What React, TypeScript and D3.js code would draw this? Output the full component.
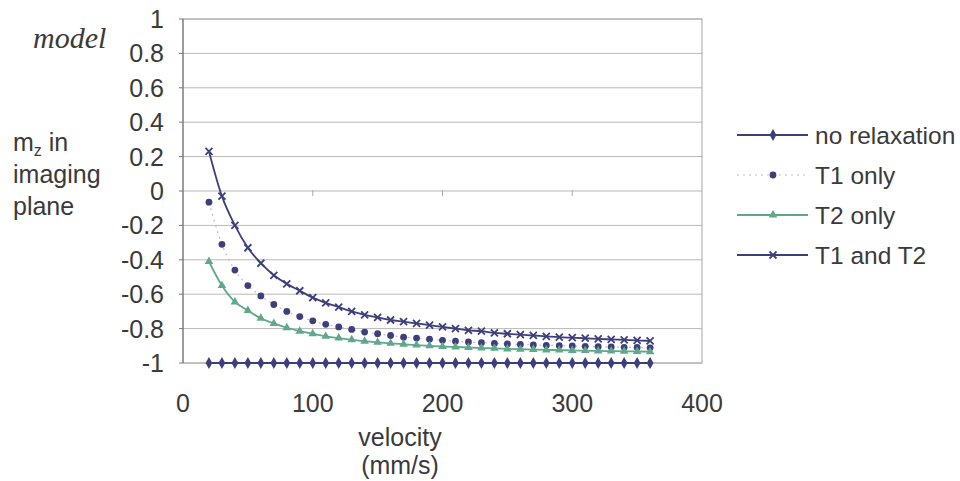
import React from "react";
import * as d3 from "d3";

const velocity = [20,30,40,50,60,70,80,90,100,110,120,130,140,150,160,170,180,190,200,210,220,230,240,250,260,270,280,290,300,310,320,330,340,350,360];
const noRelaxation = velocity.map(() => -1);
const t1Only = [-0.065,-0.31,-0.46,-0.55,-0.61,-0.66,-0.70,-0.73,-0.755,-0.775,-0.79,-0.805,-0.82,-0.83,-0.84,-0.85,-0.855,-0.862,-0.868,-0.873,-0.878,-0.882,-0.886,-0.889,-0.892,-0.895,-0.897,-0.899,-0.901,-0.903,-0.905,-0.907,-0.909,-0.91,-0.912];
const t2Only = [-0.41,-0.55,-0.645,-0.695,-0.74,-0.77,-0.795,-0.815,-0.83,-0.845,-0.855,-0.865,-0.873,-0.88,-0.886,-0.891,-0.896,-0.9,-0.904,-0.907,-0.91,-0.913,-0.915,-0.918,-0.92,-0.922,-0.924,-0.925,-0.927,-0.928,-0.93,-0.931,-0.932,-0.933,-0.934];
const t1AndT2 = [0.23,-0.03,-0.2,-0.33,-0.42,-0.49,-0.54,-0.58,-0.62,-0.65,-0.675,-0.7,-0.72,-0.735,-0.75,-0.76,-0.77,-0.78,-0.79,-0.8,-0.81,-0.815,-0.825,-0.83,-0.835,-0.84,-0.845,-0.85,-0.853,-0.856,-0.86,-0.863,-0.866,-0.869,-0.872];
const seriesNames = ["no relaxation", "T1 only", "T2 only", "T1 and T2"];
const xTicks = [0, 100, 200, 300, 400];
const yTicks = [1, 0.8, 0.6, 0.4, 0.2, 0, -0.2, -0.4, -0.6, -0.8, -1];

const NAVY = "#3d3f7c";
const GREEN = "#5fa98a";
const TEXT = "#3a3a3a";
const FONT = "'Liberation Sans', Arial, sans-serif";

const x = d3.scaleLinear().domain([0, 400]).range([183, 702]);
const y = d3.scaleLinear().domain([-1, 1]).range([363, 19]);

function Marker({ kind, cx, cy }: { kind: string; cx: number; cy: number }) {
  if (kind === "diamond")
    return <path d={d3.symbol(d3.symbolDiamond, 40)() as string} transform={`translate(${cx},${cy})`} fill={NAVY} />;
  if (kind === "circle") return <circle cx={cx} cy={cy} r={3.4} fill={NAVY} />;
  if (kind === "triangle")
    return <path d={d3.symbol(d3.symbolTriangle, 32)() as string} transform={`translate(${cx},${cy})`} fill={GREEN} />;
  return (
    <path d={`M${cx - 3.5},${cy - 3.5}L${cx + 3.5},${cy + 3.5}M${cx - 3.5},${cy + 3.5}L${cx + 3.5},${cy - 3.5}`} stroke={NAVY} strokeWidth={1.8} />
  );
}

export default function App() {
  const series = [
    { name: seriesNames[0], values: noRelaxation, color: NAVY, dash: undefined as string | undefined, width: 2, marker: "diamond" },
    { name: seriesNames[1], values: t1Only, color: "#c8b8c8", dash: "2,4", width: 1.2, marker: "circle" },
    { name: seriesNames[2], values: t2Only, color: GREEN, dash: undefined, width: 1.8, marker: "triangle" },
    { name: seriesNames[3], values: t1AndT2, color: NAVY, dash: undefined, width: 1.8, marker: "cross" },
  ];
  const line = d3.line<number>().x((_, i) => x(velocity[i])).y((v) => y(v)).curve(d3.curveMonotoneX);

  return (
    <svg width={960} height={481} style={{ position: "absolute", left: 0, top: 0, background: "#fff" }}>
      <rect width={960} height={481} fill="#fff" />
      {yTicks.map((t) => (
        <line key={t} x1={x(0)} x2={x(400)} y1={y(t)} y2={y(t)} stroke="#b8b8b8" strokeWidth={1} />
      ))}
      <rect x={x(0)} y={y(1)} width={x(400) - x(0)} height={y(-1) - y(1)} fill="none" stroke="#a8a8a8" />
      <line x1={x(0)} x2={x(0)} y1={y(1)} y2={y(-1)} stroke="#777" strokeWidth={1.2} />
      {yTicks.map((t) => (
        <line key={"yt" + t} x1={x(0) - 4} x2={x(0)} y1={y(t)} y2={y(t)} stroke="#777" />
      ))}
      {xTicks.slice(1, 4).map((t) => (
        <line key={"xt" + t} x1={x(t)} x2={x(t)} y1={y(0) - 1} y2={y(0) + 5} stroke="#aaa" />
      ))}
      {yTicks.map((t) => (
        <text key={"yl" + t} x={164} y={y(t) + 9} textAnchor="end" fontFamily={FONT} fontSize={25} fill={TEXT}>
          {String(t)}
        </text>
      ))}
      {xTicks.map((t) => (
        <text key={"xl" + t} x={x(t)} y={412} textAnchor="middle" fontFamily={FONT} fontSize={25} fill={TEXT}>
          {t}
        </text>
      ))}
      <text x={400} y={446} textAnchor="middle" fontFamily={FONT} fontSize={25} fill={TEXT}>velocity</text>
      <text x={400} y={474} textAnchor="middle" fontFamily={FONT} fontSize={25} fill={TEXT}>(mm/s)</text>
      <text x={33} y={48} fontFamily="'Liberation Serif', 'DejaVu Serif', serif" fontStyle="italic" fontSize={30} fill={TEXT}>model</text>
      <text x={13} y={151} fontFamily={FONT} fontSize={25} fill={TEXT}>
        m<tspan fontSize={16} dy={5}>z</tspan><tspan dy={-5}> in</tspan>
      </text>
      <text x={13} y={183} fontFamily={FONT} fontSize={25} fill={TEXT}>imaging</text>
      <text x={13} y={215} fontFamily={FONT} fontSize={25} fill={TEXT}>plane</text>
      {series.map((s) => (
        <g key={s.name}>
          <path d={line(s.values) as string} fill="none" stroke={s.color} strokeWidth={s.width} strokeDasharray={s.dash} />
          {s.values.map((v, i) => (
            <Marker key={i} kind={s.marker} cx={x(velocity[i])} cy={y(v)} />
          ))}
        </g>
      ))}
      {series.map((s, i) => {
        const ly = 135 + i * 40;
        return (
          <g key={"lg" + s.name}>
            <line x1={737} x2={808} y1={ly} y2={ly} stroke={s.color} strokeWidth={s.width} strokeDasharray={s.dash} />
            <Marker kind={s.marker} cx={773} cy={ly} />
            <text x={815} y={ly + 9} fontFamily={FONT} fontSize={24.5} fill={TEXT}>{s.name}</text>
          </g>
        );
      })}
    </svg>
  );
}
